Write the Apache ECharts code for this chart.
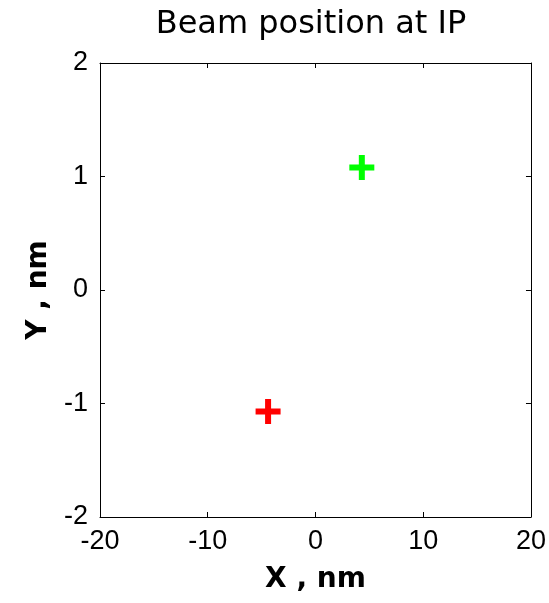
<!DOCTYPE html>
<html>
<head>
<meta charset="utf-8">
<script src="https://cdn.jsdelivr.net/npm/echarts@6/dist/echarts.min.js"></script>
<style>
html,body{margin:0;padding:0;background:#fff;}
#chart{width:549px;height:603px;}
</style>
</head>
<body>
<div id="chart"></div>
<script>
var titleText = 'Beam position at IP';
var xAxisName = 'X , nm';
var yAxisName = 'Y , nm';
var xTicks = [-20, -10, 0, 10, 20];
var yTicks = [-2, -1, 0, 1, 2];
var greenPoint = [4.3, 1.08];
var redPoint = [-4.4, -1.07];

var plusPath = 'path://M9.5,0H15.5V9.5H25V15.5H15.5V25H9.5V15.5H0V9.5H9.5Z';
var tickFont = 'Liberation Sans, Arial, sans-serif';
var nameFont = 'DejaVu Sans, sans-serif';

var chart = echarts.init(document.getElementById('chart'), null, {renderer: 'canvas'});

function axisBase(extra) {
  var base = {
    axisLine: {show: true, onZero: false, lineStyle: {color: '#000', width: 1}},
    axisTick: {show: true, inside: true, length: 5, lineStyle: {color: '#000', width: 1}},
    splitLine: {show: false}
  };
  for (var k in extra) base[k] = extra[k];
  return base;
}

chart.setOption({
  animation: false,
  backgroundColor: '#fff',
  title: {
    text: titleText,
    left: 311,
    textAlign: 'center',
    top: 9,
    padding: 0,
    textStyle: {fontFamily: nameFont, fontSize: 32, fontWeight: 'normal', color: '#000'}
  },
  grid: {left: 100, right: 18, top: 63, bottom: 86, containLabel: false},
  xAxis: [
    axisBase({
      type: 'value', position: 'bottom',
      min: xTicks[0], max: xTicks[xTicks.length - 1], interval: 10,
      name: xAxisName, nameLocation: 'middle', nameGap: 49,
      nameTextStyle: {fontFamily: nameFont, fontSize: 28, fontWeight: 'bold', color: '#000'},
      axisLabel: {show: true, margin: 11, color: '#000', fontFamily: tickFont, fontSize: 27}
    }),
    axisBase({
      type: 'value', position: 'top',
      min: xTicks[0], max: xTicks[xTicks.length - 1], interval: 10,
      axisLabel: {show: false}
    })
  ],
  yAxis: [
    axisBase({
      type: 'value', position: 'left',
      min: yTicks[0], max: yTicks[yTicks.length - 1], interval: 1,
      name: yAxisName, nameLocation: 'middle', nameGap: 47,
      nameTextStyle: {fontFamily: nameFont, fontSize: 28, fontWeight: 'bold', color: '#000'},
      axisLabel: {show: true, margin: 12, color: '#000', fontFamily: tickFont, fontSize: 27}
    }),
    axisBase({
      type: 'value', position: 'right',
      min: yTicks[0], max: yTicks[yTicks.length - 1], interval: 1,
      axisLabel: {show: false}
    })
  ],
  series: [
    {
      type: 'scatter', xAxisIndex: 0, yAxisIndex: 0,
      symbol: plusPath, symbolSize: 25,
      itemStyle: {color: '#00ff00', opacity: 1},
      data: [greenPoint]
    },
    {
      type: 'scatter', xAxisIndex: 0, yAxisIndex: 0,
      symbol: plusPath, symbolSize: 25,
      itemStyle: {color: '#ff0000', opacity: 1},
      data: [redPoint]
    }
  ]
});
</script>
</body>
</html>
